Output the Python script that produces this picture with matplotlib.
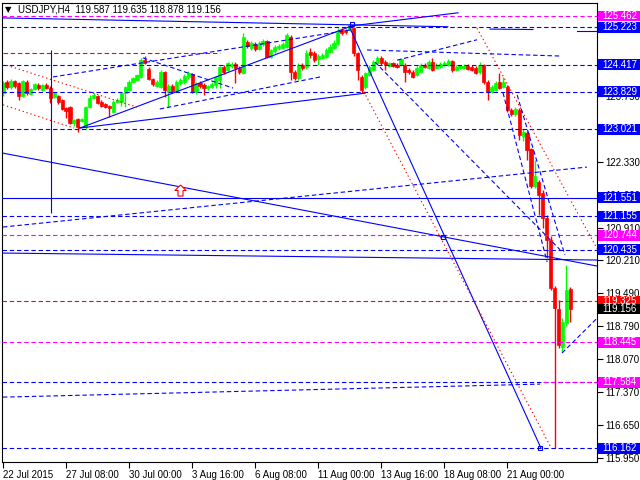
import matplotlib
matplotlib.use("Agg")
import matplotlib.pyplot as plt
from matplotlib.patches import Rectangle
from matplotlib.path import Path
from matplotlib.transforms import blended_transform_factory

plt.rcParams['font.family'] = ['Liberation Sans', 'DejaVu Sans']

# H4 candles, 22 Jul 2015 16:00 onwards (bar index = position on the chart)
opens = [123.80, 124.04, 123.93, 124.06, 124.02, 123.74, 124.04, 123.78, 123.89, 123.98,
         123.87, 123.98, 123.91, 123.72, 123.74, 123.65, 123.48, 123.50, 123.16, 123.24,
         123.20, 123.07, 123.50, 123.70, 123.74, 123.61, 123.57, 123.52, 123.39, 123.61,
         123.61, 123.80, 123.87, 124.04, 124.08, 124.15, 124.51, 124.32, 124.11, 123.96,
         123.93, 124.26, 123.83, 123.96, 123.85, 124.02, 124.04, 124.15, 124.21, 123.83,
         124.02, 123.98, 123.91, 123.93, 123.98, 124.08, 124.36, 124.30, 124.39, 124.43,
         124.34, 124.23, 124.90, 124.77, 124.86, 124.75, 124.86, 124.92, 124.58, 124.71,
         124.77, 124.77, 124.79, 125.01, 124.26, 124.13, 124.41, 124.36, 124.69, 124.66,
         124.54, 124.56, 124.58, 124.69, 124.77, 124.88, 125.16, 125.16, 125.16, 125.20,
         124.66, 124.15, 123.93, 124.19, 124.30, 124.45, 124.56, 124.47, 124.39, 124.45,
         124.41, 124.41, 124.41, 124.30, 124.26, 124.19, 124.26, 124.41, 124.34, 124.47,
         124.34, 124.36, 124.41, 124.41, 124.49, 124.30, 124.34, 124.34, 124.39, 124.36,
         124.34, 124.26, 124.41, 124.04, 123.83, 123.87, 124.04, 123.93, 123.93, 123.44,
         123.35, 123.44, 122.88, 122.94, 122.60, 121.80, 121.89, 121.65, 121.12, 120.64,
         119.61, 119.16, 118.34, 118.86, 119.587]
highs = [124.06, 124.08, 124.11, 124.08, 124.04, 124.08, 124.08, 123.91, 124.02, 124.02,
         124.00, 124.02, 123.96, 123.83, 123.76, 123.68, 123.50, 123.52, 123.24, 123.27,
         123.27, 123.52, 123.76, 123.80, 123.76, 123.65, 123.59, 123.55, 123.65, 123.70,
         123.83, 123.96, 124.08, 124.15, 124.21, 124.56, 124.60, 124.36, 124.13, 124.08,
         124.30, 124.28, 124.00, 124.00, 124.08, 124.13, 124.21, 124.28, 124.23, 124.04,
         124.06, 124.02, 123.98, 124.04, 124.17, 124.39, 124.41, 124.47, 124.47, 124.47,
         124.39, 125.10, 124.95, 124.92, 124.90, 124.92, 124.97, 124.95, 124.75, 124.84,
         124.86, 124.90, 125.10, 125.05, 124.30, 124.45, 124.45, 124.73, 124.77, 124.71,
         124.64, 124.66, 124.77, 124.86, 124.95, 125.20, 125.20, 125.18, 125.29, 125.23,
         124.69, 124.19, 124.26, 124.41, 124.51, 124.60, 124.60, 124.51, 124.47, 124.47,
         124.45, 124.56, 124.45, 124.34, 124.30, 124.39, 124.45, 124.45, 124.51, 124.56,
         124.45, 124.47, 124.49, 124.54, 124.51, 124.41, 124.41, 124.43, 124.43, 124.41,
         124.39, 124.47, 124.43, 124.08, 123.98, 124.06, 124.23, 124.15, 123.98, 123.48,
         123.50, 123.48, 123.04, 122.98, 122.62, 122.36, 121.93, 121.72, 121.18, 120.73,
         119.65, 119.35, 118.96, 120.10, 119.635]
lows = [123.74, 123.89, 123.89, 123.91, 123.65, 123.72, 123.76, 123.76, 123.87, 123.87,
        123.85, 123.89, 123.59, 123.70, 123.57, 123.44, 123.27, 123.13, 123.09, 122.96,
        123.18, 123.04, 123.48, 123.68, 123.57, 123.50, 123.48, 123.29, 123.37, 123.59,
        123.52, 123.50, 123.85, 124.02, 124.06, 124.13, 124.43, 124.08, 123.96, 123.93,
        123.91, 123.72, 123.50, 123.80, 123.83, 123.98, 124.00, 124.11, 123.80, 123.78,
        123.91, 123.76, 123.87, 123.91, 123.91, 123.91, 124.21, 124.28, 124.34, 124.02,
        124.21, 124.21, 124.77, 124.73, 124.71, 124.73, 124.82, 124.56, 124.56, 124.66,
        124.73, 124.75, 124.77, 124.08, 124.08, 124.08, 124.30, 124.32, 124.56, 124.47,
        124.41, 124.54, 124.56, 124.66, 124.75, 124.84, 125.05, 125.07, 125.14, 124.60,
        124.08, 123.80, 123.89, 124.17, 124.28, 124.43, 124.41, 124.30, 124.36, 124.36,
        124.34, 124.39, 124.04, 124.21, 124.13, 124.17, 124.23, 124.34, 124.32, 124.28,
        124.32, 124.34, 124.39, 124.39, 124.26, 124.28, 124.32, 124.32, 124.30, 124.28,
        124.21, 124.21, 124.00, 123.65, 123.80, 123.85, 123.89, 123.91, 123.39, 123.31,
        123.31, 122.79, 122.77, 122.36, 121.76, 121.76, 121.18, 120.90, 120.25, 119.57,
        116.17, 118.32, 118.23, 118.79, 118.878]
closes = [124.02, 123.93, 124.06, 123.96, 123.74, 124.06, 123.80, 123.89, 124.00, 123.91,
          123.98, 123.91, 123.70, 123.80, 123.61, 123.46, 123.42, 123.16, 123.22, 123.07,
          123.24, 123.50, 123.70, 123.76, 123.59, 123.52, 123.50, 123.48, 123.61, 123.65,
          123.80, 123.93, 124.04, 124.13, 124.19, 124.51, 124.45, 124.11, 124.00, 124.04,
          124.26, 123.87, 123.96, 123.85, 124.04, 124.08, 124.17, 124.23, 123.83, 124.02,
          123.96, 123.91, 123.96, 124.00, 124.15, 124.36, 124.26, 124.45, 124.43, 124.34,
          124.26, 125.01, 124.82, 124.88, 124.75, 124.88, 124.92, 124.58, 124.73, 124.79,
          124.82, 124.86, 125.05, 124.26, 124.13, 124.41, 124.34, 124.66, 124.62, 124.51,
          124.60, 124.62, 124.73, 124.79, 124.88, 125.12, 125.10, 125.12, 125.25, 124.66,
          124.30, 123.87, 124.23, 124.36, 124.47, 124.56, 124.45, 124.41, 124.45, 124.39,
          124.36, 124.54, 124.26, 124.26, 124.15, 124.34, 124.41, 124.36, 124.47, 124.30,
          124.41, 124.43, 124.45, 124.49, 124.30, 124.36, 124.39, 124.39, 124.32, 124.30,
          124.23, 124.41, 124.04, 123.83, 123.93, 124.02, 123.91, 124.04, 123.44, 123.35,
          123.46, 122.90, 122.96, 122.58, 121.80, 122.02, 121.61, 121.12, 120.64, 119.61,
          119.18, 118.38, 118.88, 119.57, 119.156]

date_ticks = [0, 16, 32, 48, 64, 80, 96, 112, 128]
date_labels = ["22 Jul 2015", "27 Jul 08:00", "30 Jul 00:00", "3 Aug 16:00", "6 Aug 08:00",
               "11 Aug 00:00", "13 Aug 16:00", "18 Aug 08:00", "21 Aug 00:00"]
# scale marks (the ones not hidden behind price tags)
scale_ticks = [115.950, 116.650, 117.370, 118.070, 118.790, 119.490, 120.210, 120.910,
               121.620, 122.330, 123.750]

BLUE = "#0000FF"
MAGENTA = "#FF00FF"
RED = "#FF0000"
GREEN = "#00FF00"

# horizontal levels: value, colour, solid?
levels = [(125.462, MAGENTA, False), (125.223, BLUE, False), (124.417, BLUE, False),
          (123.829, BLUE, False), (123.021, BLUE, False), (121.551, BLUE, True),
          (121.155, BLUE, False), (120.744, MAGENTA, False), (120.435, BLUE, False),
          (119.325, RED, False), (118.445, MAGENTA, False), (117.584, BLUE, False),
          (116.162, BLUE, False)]
# price labels on the scale
price_tags = [(125.462, MAGENTA), (125.223, BLUE), (124.417, BLUE), (123.829, BLUE),
              (123.021, BLUE), (121.551, BLUE), (121.155, BLUE), (120.744, MAGENTA),
              (120.435, BLUE), (119.325, RED), (119.156, "black"), (118.445, MAGENTA),
              (117.584, MAGENTA), (116.162, BLUE)]

# trend lines: bar0, price0, bar1, price1, colour, style
trend_lines = [
    (19.5, 123.05, 88.6, 125.25, BLUE, "-"),
    (19.5, 123.05, 91.9, 123.80, BLUE, "-"),
    (0.0, 125.42, 112.9, 125.23, BLUE, "-"),
    (88.6, 125.25, 115.5, 125.53, BLUE, "-"),
    (123.6, 125.18, 134.5, 125.17, BLUE, "-"),
    (145.7, 125.14, 150.8, 125.14, BLUE, "-"),
    (0.0, 122.51, 150.8, 120.08, BLUE, "-"),
    (0.0, 120.36, 150.8, 120.21, BLUE, "-"),
    (87.8, 125.25, 136.5, 116.17, BLUE, "-"),
    (91.1, 123.91, 139.1, 116.17, RED, "dot"),
    (120.3, 125.20, 150.8, 120.45, RED, "dot"),
    (1.0, 124.40, 34.0, 123.50, RED, "dot"),
    (0.0, 123.55, 18.0, 123.05, RED, "dot"),
    (0.0, 120.92, 148.2, 122.21, BLUE, "dash"),
    (141.9, 118.21, 150.8, 118.96, BLUE, "dash"),
    (0.0, 117.26, 136.3, 117.54, BLUE, "dash"),
    (0.0, 124.66, 55.0, 124.66, RED, "dash"),
    (12.7, 124.15, 88.1, 125.16, BLUE, "dash"),
    (39.8, 123.46, 80.5, 124.15, BLUE, "dash"),
    (35.5, 124.56, 58.4, 123.91, BLUE, "dash"),
    (92.4, 124.73, 141.4, 124.60, BLUE, "dash"),
    (94.4, 124.47, 141.4, 120.43, BLUE, "dash"),
    (100.0, 124.51, 120.3, 124.95, BLUE, "dash"),
    (126.9, 123.81, 138.1, 120.17, BLUE, "dash"),
    (130.5, 123.76, 142.6, 120.32, BLUE, "dash"),
]
vertical_line = (12.2, 121.22, 124.73)
anchors = [(88.6, 125.29), (111.7, 120.71), (136.3, 116.17)]
arrow_at = (44.9, 121.72)

styles = {"-": "-", "dash": (0, (4, 2.5)), "dot": (0, (1.2, 2.5))}

fig = plt.figure(figsize=(6.4, 4.8), dpi=100)
ax = fig.add_axes([2 / 640, 18 / 480, 595 / 640, 459 / 480])
ax.set_xlim(-0.25, 150.76)
ax.set_ylim(115.864, 125.741)

for i in range(len(closes)):
    c = GREEN if closes[i] >= opens[i] else RED
    lo = min(opens[i], closes[i])
    hi = max(opens[i], closes[i])
    ax.vlines(i, lows[i], highs[i], color=c, lw=1.0, zorder=2)
    ax.bar(i, max(hi - lo, 0.015), bottom=lo, width=0.8, color=c, edgecolor=c,
           linewidth=0.5, zorder=2)

for val, col, solid in levels:
    ax.axhline(val, color=col, lw=0.8, ls="-" if solid else styles["dash"], zorder=3)
ax.plot([137, 150.8], [117.584, 117.584], color=MAGENTA, lw=0.8, ls=styles["dash"], zorder=3)

for b0, p0, b1, p1, col, st in trend_lines:
    ax.plot([b0, b1], [p0, p1], color=col, lw=0.8, ls=styles[st], zorder=3)
ax.vlines(vertical_line[0], vertical_line[1], vertical_line[2], color=BLUE, lw=0.8, zorder=3)
for b, p in anchors:
    ax.plot(b, p, marker="s", ms=3.5, mfc="none", mec=BLUE, mew=0.8, zorder=4)

# hollow up arrow
arrow = Path([(0, 1), (1, 0), (0.45, 0), (0.45, -1), (-0.45, -1), (-0.45, 0), (-1, 0), (0, 1)])
ax.plot(*arrow_at, marker=arrow, ms=8, mfc="white", mec=RED, mew=0.8, zorder=4)

# axes styling
for s in ax.spines.values():
    s.set_color("black")
    s.set_linewidth(0.8)
ax.yaxis.tick_right()
ax.set_yticks(scale_ticks)
ax.set_yticklabels([f"{v:.3f}" for v in scale_ticks])
ax.tick_params(axis="y", direction="out", length=4, width=0.8, pad=2, labelsize=7,
               colors="black")
ax.set_xticks(date_ticks)
ax.set_xticklabels(date_labels, ha="left")
ax.tick_params(axis="x", direction="out", length=4, width=0.8, pad=2, labelsize=7)

trans = blended_transform_factory(ax.transAxes, ax.transData)
tag_h = 0.235
for val, col in price_tags:
    ax.add_patch(Rectangle((1.0017, val - tag_h / 2), 42 / 595, tag_h, transform=trans,
                           fc=col, ec="none", clip_on=False, zorder=9))
    ax.text(1.0085, val, f"{val:.3f}", transform=trans, color="white", fontsize=7,
            va="center", ha="left", clip_on=False, zorder=10)

fig.text(5 / 640, 1 - 10 / 480, "▼", fontsize=6, va="center", ha="left",
         family=["DejaVu Sans"])
fig.text(18 / 640, 1 - 10 / 480, "USDJPY,H4  119.587 119.635 118.878 119.156",
         fontsize=7, va="center", ha="left")

fig.savefig("out.png", dpi=100, facecolor="white")
